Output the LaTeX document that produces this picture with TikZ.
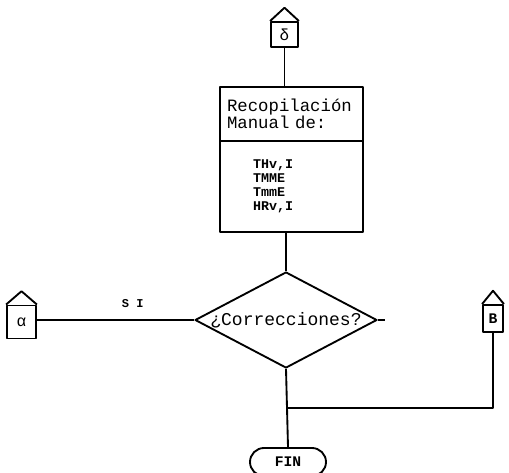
\documentclass[tikz,border=0pt]{standalone}
\usepackage{fontspec}
\setmainfont{Liberation Mono}
\usepackage{tikz}
\usetikzlibrary{positioning, shapes.geometric, shapes.misc}

\begin{document}
\begin{tikzpicture}[x=0.75pt, y=-0.75pt, line width=1.4pt, line join=round, node distance=0pt,
    conn/.style={draw, inner sep=0pt, font=\fontsize{12}{12}\selectfont},
    blk/.style={draw, minimum width=107.25pt, inner ysep=0pt, inner xsep=5.25pt, outer sep=0pt, align=left}]
    \useasboundingbox (0,0) rectangle (509,473);

    \node[conn, minimum width=20.25pt, minimum height=18.75pt] (delta) at (284.5,34.5) {δ};
    \node[blk, minimum height=40.5pt, text width=96.75pt, font=\fontsize{13}{12.75}\selectfont] (hdr) at (291.5,114) {Recopilación\\Manual de:};
    \node[blk, minimum height=68.25pt, inner xsep=24.75pt, text width=57.75pt, font=\fontsize{10}{10.4}\selectfont\bfseries] (vars) [below=of hdr] {THv,I\\TMME\\TmmE\\HRv,I};
    \node[diamond, draw, minimum width=136.5pt, minimum height=72pt, inner sep=0pt,
          label={[font=\fontsize{13.5}{13.5}\selectfont]center:¿Correcciones?}] (dec) at (286,320) {};
    \node[conn, minimum width=21.75pt, minimum height=24.75pt] (alpha) at (21.5,322) {α};
    \node[conn, minimum width=15pt, minimum height=20.25pt, font=\fontsize{11}{11}\selectfont\bfseries] (beta) at (493,318.5) {B};
    \node[rounded rectangle, draw, minimum width=57pt, minimum height=21pt, inner sep=0pt, font=\fontsize{11}{11}\selectfont\bfseries] (fin) at (288,462) {FIN};
    \coordinate (stub) at (385,320);
    \coordinate (join) at (286,408);

    % roofs of the connectors
    \foreach \n in {delta, alpha, beta}
        \draw (\n.north west) -- ([yshift=10pt]\n.north) -- (\n.north east);

    \draw (delta) -- (delta |- hdr.north);
    \draw (dec.north) -- (dec |- vars.south);
    \draw (alpha.east |- dec.west) -- node[pos=0.61, above=5pt, font=\fontsize{9}{9}\selectfont\bfseries] (si) {S I} (dec.west);
    \draw (dec.east) -- (stub);
    \draw (beta.south) |- (join);
    \draw (dec.south) -- (fin.north);
\end{tikzpicture}
\end{document}
